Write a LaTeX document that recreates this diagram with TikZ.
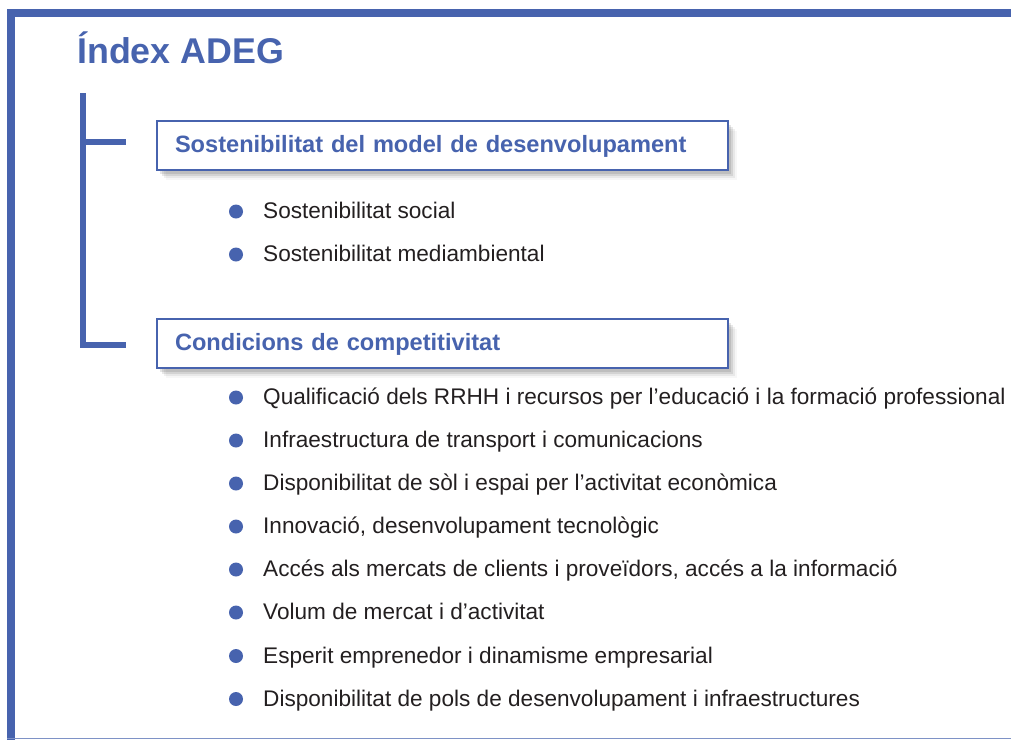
\documentclass[tikz,border=0pt]{standalone}
\usepackage{fontspec}
\setmainfont{Liberation Sans}
\usetikzlibrary{shadows}
\definecolor{adegblue}{HTML}{4763AE}
\definecolor{itemtext}{HTML}{231F20}
\tikzset{
  headbox/.style={draw=adegblue, line width=2pt, fill=white, minimum width=571pt, minimum height=49pt,
    text width=535pt, align=left, inner xsep=18pt, text height=13pt, text depth=0pt,
    font=\bfseries\fontsize{23.6}{27}\selectfont, text=adegblue,
    general shadow={shadow xshift=3pt, shadow yshift=-4pt, fill=black, opacity=0.10},
    general shadow={shadow xshift=5pt, shadow yshift=-6pt, fill=black, opacity=0.09},
    general shadow={shadow xshift=7pt, shadow yshift=-8pt, fill=black, opacity=0.06},
    general shadow={shadow xshift=9pt, shadow yshift=-10pt, fill=black, opacity=0.03}},
  bulletdot/.style={circle, fill=adegblue, inner sep=0pt, minimum size=14pt},
  itemlabel/.style={anchor=base west, inner sep=0pt, font=\fontsize{22.6}{26}\selectfont, text=itemtext},
  bracketline/.style={draw=adegblue, line width=6pt},
}
\begin{document}
\begin{tikzpicture}[x=1pt,y=-1pt]
\useasboundingbox (0,0) rectangle (1011,740);
% frame
\fill[adegblue] (7,9) rectangle (1011,17);
\fill[adegblue] (7,9) rectangle (15,740);
\draw[adegblue!70, line width=1.5pt] (7,738.5) -- (1011,738.5);
% title
\node[anchor=base west, inner sep=0pt, font=\bfseries\fontsize{35.8}{40}\selectfont, text=adegblue] (title) at (77,63) {Índex ADEG};
% bracket
\coordinate (btop) at (83,93);
\coordinate (bcorner) at (83,345);
\coordinate (bend2) at (126,345);
\coordinate (bmid) at (83,142);
\coordinate (bend1) at (126,142);
\draw[bracketline] (btop) -- (bcorner) -- (bend2);
\draw[bracketline] ([xshift=-3pt]bmid) -- (bend1);
% boxes
\node[headbox] (box1) at (442.5,145.5) {Sostenibilitat del model de desenvolupament};
\node[headbox] (box2) at (442.5,343.5) {Condicions de competitivitat};
% items
\foreach \y/\t [count=\i] in {
  211.5/Sostenibilitat social,
  254.5/Sostenibilitat mediambiental,
  397.5/Qualificació dels RRHH i recursos per l’educació i la formació professional,
  440.5/Infraestructura de transport i comunicacions,
  483.5/Disponibilitat de sòl i espai per l’activitat econòmica,
  526.5/{Innovació, desenvolupament tecnològic},
  569.5/{Accés als mercats de clients i proveïdors, accés a la informació},
  612.5/Volum de mercat i d’activitat,
  656/Esperit emprenedor i dinamisme empresarial,
  699/Disponibilitat de pols de desenvolupament i infraestructures}
{
  \node[bulletdot] (dot\i) at (236,\y) {};
  \node[itemlabel] (item\i) at (263,\y+7) {\t};
}
\end{tikzpicture}
\end{document}
